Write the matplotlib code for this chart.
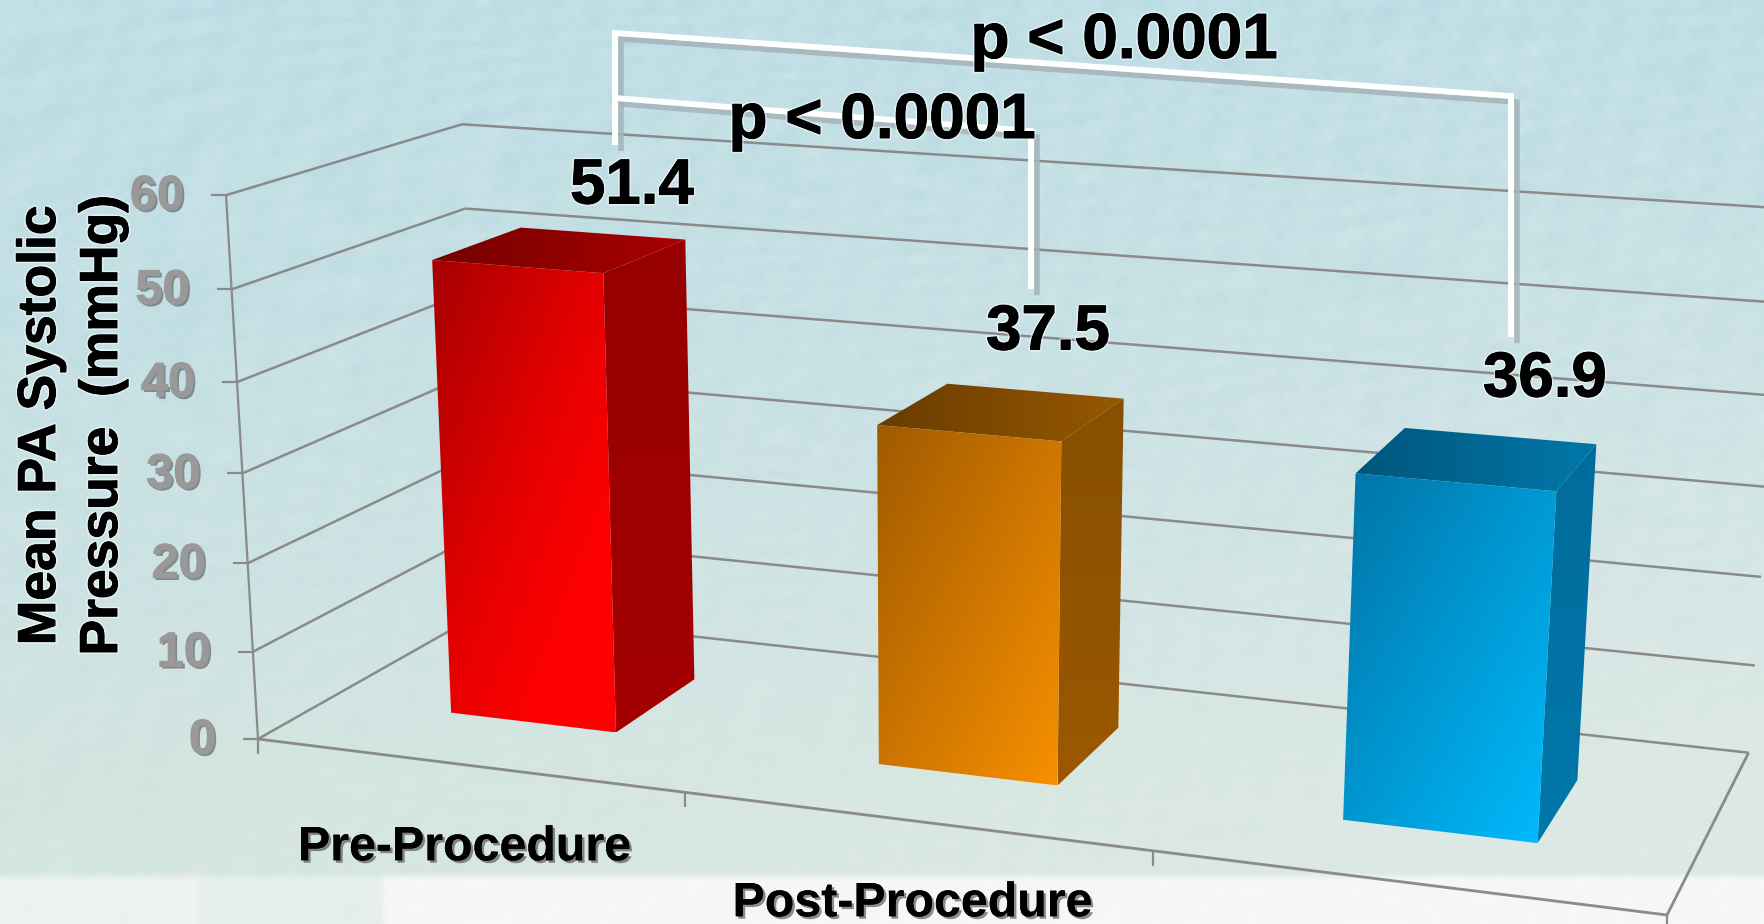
import numpy as np
import matplotlib
matplotlib.use("Agg")
import matplotlib.pyplot as plt
import matplotlib.patheffects as pe
from matplotlib.colors import LinearSegmentedColormap
from matplotlib.patches import Polygon

plt.rcParams["font.family"] = ["Liberation Sans", "DejaVu Sans"]

# ---- chart content -------------------------------------------------------
categories = ["Pre-Procedure", "Post-Procedure", ""]
values = [51.4, 37.5, 36.9]
value_labels = ["51.4", "37.5", "36.9"]
y_ticks = [0, 10, 20, 30, 40, 50, 60]
y_title_lines = ["Mean PA Systolic", "Pressure  (mmHg)"]
p_labels = ["p < 0.0001", "p < 0.0001"]

# ---- colours: front gradient stops, side (top, bottom), top face (dark, bright)
bar_fronts = [
    [(0.0, "#a60000"), (0.45, "#e20000"), (0.78, "#ff0000"), (1.0, "#ff0000")],
    [(0.0, "#a05a00"), (1.0, "#f89000")],
    [(0.0, "#0074a6"), (1.0, "#00bcff")],
]
bar_sides = [("#960000", "#a40000"), ("#865000", "#9c5800"), ("#006c9c", "#0078aa")]
bar_tops = [("#740000", "#aa0000"), ("#683c00", "#965800"), ("#00567c", "#0078aa")]
GRID = "#8a8a8a"

W, H = 1764, 924

# ---- camera: pixel positions of the chart box corners --------------------
floor_front_left = (258, 739)
floor_front_right = (1667, 915)
floor_back_right = (1748.6, 752.7)
floor_back_left = (481, 613)
wall_front_top = (226, 195)
wall_back_top = (462, 125)
wall_back_top_far = (1764, 200)   # a further point on the back wall's top edge


def floor_homography(a, b, c, d):
    """Homography taking the unit square (u, v) to the floor quad a, b, c, d."""
    src = [(0, 0), (1, 0), (1, 1), (0, 1)]
    rows, rhs = [], []
    for (u, v), (x, y) in zip(src, (a, b, c, d)):
        rows.append([u, v, 1, 0, 0, 0, -u * x, -v * x])
        rows.append([0, 0, 0, u, v, 1, -u * y, -v * y])
        rhs += [x, y]
    h = np.linalg.solve(np.array(rows, float), np.array(rhs, float))
    return np.append(h, 1).reshape(3, 3)


hom = floor_homography(floor_front_left, floor_front_right,
                       floor_back_right, floor_back_left)


def solve_height_column():
    """Least-squares fit of the camera column for the vertical axis."""
    rows, rhs = [], []
    for (u, v), (x, y) in (((0, 0), wall_front_top), ((0, 1), wall_back_top)):
        X0, Y0, w0 = hom @ np.array([u, v, 1.0])
        rows += [[1, 0, -x], [0, 1, -y]]
        rhs += [x * w0 - X0, y * w0 - Y0]
    # the far corner of the back wall's top edge should stay close to that edge
    (x1, y1), (x2, y2) = wall_back_top, wall_back_top_far
    a, b = y1 - y2, x2 - x1
    norm = np.hypot(a, b)
    a, b = a / norm, b / norm
    c = -(a * x1 + b * y1)
    X0, Y0, w0 = hom @ np.array([1.0, 1.0, 1.0])
    weight = 0.3
    rows.append([weight * a, weight * b, weight * c])
    rhs.append(-weight * (a * X0 + b * Y0 + c * w0))
    return np.linalg.lstsq(np.array(rows), np.array(rhs), rcond=None)[0]


camera = np.column_stack([hom[:, 0], hom[:, 1], solve_height_column(), hom[:, 2]])

Y_MAX = y_ticks[-1]
N_CAT = len(categories)
BAR_WIDTH = 0.395                # fraction of a category slot
BAR_FRONT, BAR_BACK = 0.3, 0.7   # depth range of a bar on the floor
SLOT_SHIFT = -0.005


def project(u, v, value):
    """Project (category fraction, depth fraction, value) to figure pixels."""
    q = camera @ np.array([u, v, value / Y_MAX, 1.0])
    return q[0] / q[2], q[1] / q[2]


fig = plt.figure(figsize=(W / 100, H / 100), dpi=100)
ax = fig.add_axes([0, 0, 1, 1])
ax.set_axis_off()

# ---- mottled backdrop ----------------------------------------------------
cell = 8
gy, gx = np.mgrid[0:H // cell + 1, 0:W // cell + 1].astype(float)
px, py = gx * cell, gy * cell
mottle = (np.sin(gx * 0.71 + gy * 1.13) * np.sin(gx * 0.37 - gy * 0.83 + 1.1)
          + 0.8 * np.sin(gx * 1.91 + gy * 0.47 + 0.4) * np.sin(gy * 1.67 - gx * 0.29)
          + 0.6 * np.sin(gx * 2.63 - gy * 2.21) * np.sin(gx * 0.23 + gy * 0.31)
          + 0.9 * np.sin(gx * 0.43 * np.sin(gy * 0.09) + gy * 0.61) * np.sin(gx * 0.17 + 0.7))
stops_y = [0, 300, 600, 800, 924]
stop_col = np.array([[0xc0, 0xdf, 0xe6], [0xc4, 0xe0, 0xe5], [0xcd, 0xe3, 0xe3],
                     [0xd4, 0xe5, 0xe0], [0xd6, 0xe6, 0xe1]], float)
rgb = np.stack([np.interp(py, stops_y, stop_col[:, k]) for k in range(3)], axis=-1)
# the right side washes out towards the bottom
wash = np.clip((px / W) * (py / H) * 1.3, 0, 1)[..., None]
rgb = rgb * (1 - 0.45 * wash) + np.array([0xe8, 0xee, 0xea]) * 0.45 * wash
fade = np.clip(1 - py / 1000, 0.3, 1)[..., None]
rgb = rgb + mottle[..., None] * np.array([4.5, 2.5, 2.0]) * fade
# a pale band along the lower edge
band = py >= 880
for x0, x1, col in [(0, 197, (0xee, 0xf3, 0xef)), (197, 383, (0xe7, 0xef, 0xea)),
                    (383, W + cell, (0xf5, 0xf8, 0xf6))]:
    mask = band & (px >= x0) & (px < x1)
    rgb[mask] = np.array(col, float) + mottle[mask][:, None] * 0.6
ax.imshow(np.clip(rgb, 0, 255).astype(np.uint8), extent=(0, W, H, 0),
          aspect="auto", interpolation="bilinear", zorder=0)


def line(points, color=GRID, lw=1.8, z=2, **kw):
    xs, ys = zip(*points)
    ax.plot(xs, ys, color=color, lw=lw, zorder=z, solid_capstyle="butt", **kw)


# ---- walls and floor -----------------------------------------------------
for tick in y_ticks:
    line([project(0, 0, tick), project(0, 1, tick)])
    line([project(0, 1, tick), project(1, 1, tick)])
    x0, y0 = project(0, 0, tick)
    line([(x0 - 15, y0), (x0, y0)], lw=1.6)
line([project(0, 0, Y_MAX), project(0, 0, 0)], lw=1.6)
line([project(0, 0, 0), project(1, 0, 0)], lw=2.0)
line([project(1, 0, 0), project(1, 1, 0)], lw=2.0)
for u in (0, (1 - 0.007) / N_CAT, (2 - 0.007) / N_CAT, 1):
    x0, y0 = project(u, 0, 0)
    line([(x0, y0), (x0, y0 + 15)], lw=1.6)


# ---- bars ----------------------------------------------------------------
def gradient_face(verts, stops, wx=0.5, wy=0.5, z=3):
    """Fill a polygon with a linear gradient running along (wx, wy)."""
    verts = np.array(verts)
    x0, y0 = verts.min(axis=0)
    x1, y1 = verts.max(axis=0)
    tx, ty = np.meshgrid(np.linspace(0, 1, 120), np.linspace(0, 1, 120))
    cmap = LinearSegmentedColormap.from_list("face", stops)
    im = ax.imshow(wx * tx + wy * ty, cmap=cmap, vmin=0, vmax=1,
                   extent=(x0, x1, y1, y0), aspect="auto",
                   interpolation="bilinear", zorder=z)
    im.set_clip_path(Polygon(verts, closed=True, transform=ax.transData))


for i, val in enumerate(values):
    centre = i + 0.5 + SLOT_SHIFT
    u0 = (centre - BAR_WIDTH / 2) / N_CAT
    u1 = (centre + BAR_WIDTH / 2) / N_CAT
    v0, v1 = BAR_FRONT, BAR_BACK
    front = [project(u0, v0, val), project(u1, v0, val),
             project(u1, v0, 0), project(u0, v0, 0)]
    side = [project(u1, v0, val), project(u1, v1, val),
            project(u1, v1, 0), project(u1, v0, 0)]
    top = [project(u0, v0, val), project(u1, v0, val),
           project(u1, v1, val), project(u0, v1, val)]
    gradient_face(side, list(bar_sides[i]), 0.0, 1.0)
    gradient_face(top, list(bar_tops[i]), 1.0, 0.0)
    gradient_face(front, bar_fronts[i], 0.5, 0.5)

# ---- significance brackets ----------------------------------------------
outer_bracket = [(615, 145), (615, 33), (1511, 96), (1511, 337)]
inner_bracket = [(615, 98), (1031, 131), (1031, 289)]
for pts in (outer_bracket, inner_bracket):
    xs, ys = np.array(pts, float).T
    ax.plot(xs + 6, ys + 6, color="#a4b4b8", lw=4.0, alpha=0.85, zorder=4,
            solid_joinstyle="miter", solid_capstyle="butt")
for pts in (outer_bracket, inner_bracket):
    xs, ys = np.array(pts, float).T
    ax.plot(xs, ys, color="white", lw=4.2, zorder=5,
            solid_joinstyle="miter", solid_capstyle="butt")

# ---- text ----------------------------------------------------------------
glow = [pe.withStroke(linewidth=3.0, foreground="white", alpha=0.5),
        pe.withStroke(linewidth=0.7, foreground="black")]
value_pos = [(632, 180), (1048, 326), (1545, 373)]
for (x, y), label in zip(value_pos, value_labels):
    ax.text(x, y, label, fontsize=45.8, fontweight="bold", color="black",
            ha="center", va="center_baseline", zorder=6, path_effects=glow)
p_pos = [(1124, 58), (882, 138)]
for (x, y), label in zip(p_pos, p_labels):
    ax.text(x, y, label, fontsize=46, fontweight="bold", color="black",
            ha="center", va="baseline", zorder=6, path_effects=glow)

tick_label_x = 42
for tick in y_ticks:
    x0, y0 = project(0, 0, tick)
    ax.text(x0 - tick_label_x, y0 - 3, str(tick), fontsize=35, fontweight="bold",
            color="#999999", ha="right", va="center_baseline", zorder=6,
            path_effects=[pe.withSimplePatchShadow(offset=(1.6, -1.6),
                                                   shadow_rgbFace="#444444", alpha=0.55),
                          pe.withStroke(linewidth=0.8, foreground="#999999")])

for x, label in zip((41, 103), y_title_lines):
    ax.text(x, 425, label, fontsize=38.5, fontweight="bold", color="black",
            rotation=90, ha="center", va="center", zorder=6, path_effects=glow)

cat_shadow = [pe.withSimplePatchShadow(offset=(1.8, -1.8), shadow_rgbFace="#333333", alpha=0.55),
              pe.Normal()]
for i, label in enumerate(categories):
    x0, y0 = project((i + 0.5 - 0.01) / N_CAT, 0, 0)
    ax.text(x0, y0 + 83, label, fontsize=34.8, fontweight="bold", color="black",
            ha="center", va="center", zorder=6, path_effects=cat_shadow)

ax.set_xlim(0, W)
ax.set_ylim(H, 0)
fig.savefig("out.png", dpi=100)
